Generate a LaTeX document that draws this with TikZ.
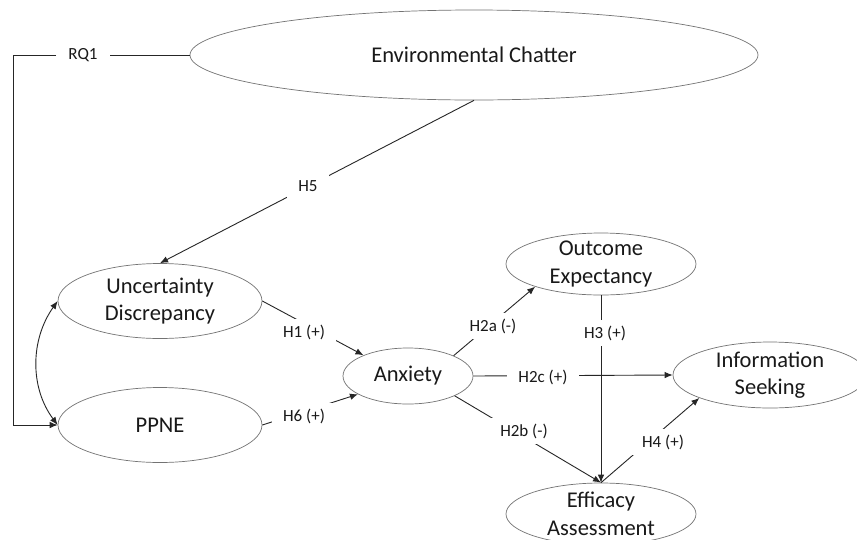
\documentclass[tikz,border=0pt]{standalone}
\usepackage{fontspec}
\setmainfont{Carlito}
\usetikzlibrary{shapes.geometric,arrows.meta}
\begin{document}
\begin{tikzpicture}[x=1pt,y=-1pt,
  var/.style={ellipse,draw=black!55,line width=0.7pt,inner sep=-12pt,align=center,
    font=\fontsize{22.5}{27.5}\selectfont,text=black!90},
  lab/.style={fill=white,inner xsep=11pt,inner ysep=6pt,font=\fontsize{17}{20}\selectfont,text=black!90},
  conn/.style={line width=0.9pt,draw=black!85},
  arr/.style={conn,-{Latex[length=8pt,width=6.5pt]}},
  dbl/.style={conn,{Latex[length=8pt,width=6.5pt]}-{Latex[length=8pt,width=6.5pt]}}]
\clip (0,0) rectangle (857,539);
\fill[white] (0,0) rectangle (857,539);
% variables
\node[var,minimum width=568pt,minimum height=90pt] (ec) at (474,55) {Environmental Chatter};
\node[var,minimum width=204pt,minimum height=75pt] (ud) at (160,301) {Uncertainty\\Discrepancy};
\node[var,minimum width=204pt,minimum height=75pt] (pp) at (160,425) {PPNE};
\node[var,minimum width=130pt,minimum height=56pt] (anx) at (408,376) {Anxiety};
\node[var,minimum width=190pt,minimum height=62pt] (oe) at (601,264) {Outcome\\Expectancy};
\node[var,minimum width=194pt,minimum height=66pt] (is) at (770,375) {Information\\Seeking};
\node[var,minimum width=190pt,minimum height=62pt] (ef) at (601,514) {Efficacy\\Assessment};
% connectors
\draw[arr] (ec.south) -- (ud.north);
\draw[arr] (ud.east) -- (anx.155);
\draw[arr] (pp.east) -- (anx.200);
\draw[arr] (anx.24) -- (oe.199);
\draw[arr] (anx.east) -- (is.west);
\draw[arr] (anx.337) -- (ef.north);
\draw[arr] (oe.south) -- (ef.north);
\draw[arr] (ef.north) -- (is.198);
\draw[dbl] (ud.west) .. controls (30,340) and (30,388) .. (pp.west);
% RQ1
\node[lab,inner xsep=12pt] (rq1) at (83,55) {RQ1};
\coordinate (c1) at (13,55);
\draw[conn] (ec.west) -- (rq1.east);
\draw[arr] (rq1.west) -- (c1) |- (pp.west);
% labels
\node[lab] (h5) at (308,186) {H5};
\node[lab] (h1) at (304,332) {H1 (+)};
\node[lab] (h6) at (304,416) {H6 (+)};
\node[lab] (h2a) at (493,326) {H2a (-)};
\node[lab] (h2c) at (543,377) {H2c (+)};
\node[lab] (h2b) at (524,431) {H2b (-)};
\node[lab] (h3) at (605,333) {H3 (+)};
\node[lab] (h4) at (663,442) {H4 (+)};
\end{tikzpicture}
\end{document}
